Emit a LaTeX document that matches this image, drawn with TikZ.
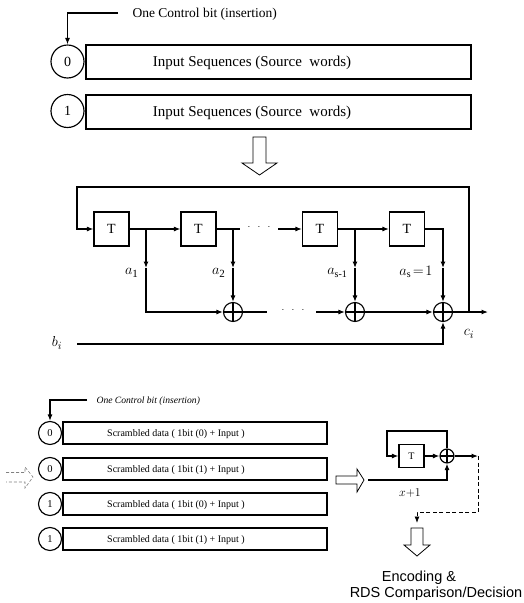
\documentclass[tikz,border=0pt]{standalone}
\usepackage{fontspec}
\setmainfont{Liberation Serif}
\newfontfamily\labelfont{Liberation Sans}
\usepackage{tikz}
\usetikzlibrary{arrows.meta}
\tikzset{arr/.style={-{Latex[length=6.5pt,width=5pt]}}}
\tikzset{every edge/.style={draw, arr}}
\tikzset{
  bitc/.style={draw, circle, minimum size=33pt, inner sep=0pt, font=\fontsize{14}{16}\selectfont},
  seqbox/.style={draw, minimum width=385pt, minimum height=34pt, inner sep=0pt},
  seqtext/.style={inner sep=0pt, font=\fontsize{15}{17}\selectfont},
  tbox/.style={draw, minimum width=35pt, minimum height=34pt, inner sep=0pt, font=\fontsize{14}{16}\selectfont},
  xorc/.style={draw, circle, minimum size=#1, inner sep=0pt,
    path picture={\draw (path picture bounding box.north) -- (path picture bounding box.south)
      (path picture bounding box.west) -- (path picture bounding box.east);}},
  xorc/.default=19pt,
  tap/.style={inner sep=0pt, anchor=east, font=\fontsize{15}{17}\selectfont},
  smallbit/.style={draw, circle, minimum size=23pt, inner sep=0pt, font=\fontsize{10.5}{12}\selectfont},
  scrbox/.style={draw, minimum width=264pt, minimum height=22pt, inner sep=0pt},
  scrtext/.style={inner sep=0pt, font=\fontsize{10}{12}\selectfont},
}

\begin{document}
\begin{tikzpicture}[x=1pt, y=-1pt, line width=1.15pt]
  \useasboundingbox (0,0) rectangle (523,603);

  % input sequences with the control bit
  \node[bitc]   at (67.5, 61.5)  (bit0) {0};
  \node[bitc]   at (67.5, 111)   (bit1) {1};
  \node[seqbox] at (278.5, 62)  (seq0) {};
  \node[seqbox] at (278.5, 112) (seq1) {};
  \node[seqtext] at (252, 63)  (seq0t) {Input Sequences (Source\ \ words)};
  \node[seqtext] at (252, 113) (seq1t) {Input Sequences (Source\ \ words)};
  \node[inner sep=0pt, anchor=west, font=\fontsize{13.5}{15}\selectfont] at (132, 14) (ctl) {One Control bit (insertion)};
  \coordinate (ctlend) at (118, 13);
  \draw[arr] (ctlend) -| (bit0.north);

  \draw[line width=0.8pt] (253,137) -- (266,137) -- (266,163) -- (277,163) -- (259.5,175)
    -- (242,163) -- (253,163) -- cycle;

  % scrambler
  \node[tbox] at (111.5, 229) (T1) {T};
  \node[tbox] at (198.5, 229) (T2) {T};
  \node[tbox] at (320, 229)   (T3) {T};
  \node[tbox] at (407, 229)   (T4) {T};

  \node[xorc] at (233, 312) (X1) {};
  \node[xorc] at (355, 312) (X2) {};
  \node[xorc] at (443, 312) (X3) {};

  \coordinate (tap1) at (146, 229);
  \coordinate (tap2) at (233, 229);
  \coordinate (tap3) at (355, 229);
  \coordinate (tap4) at (443, 229);
  \coordinate (m1) at (146, 268);
  \coordinate (m2) at (233, 268);
  \coordinate (m3) at (355, 268);
  \coordinate (m4) at (443, 268);

  \draw (T1) edge (T2);
  \draw (T2.east) -- (240, 229) coordinate (d1);
  \node[inner sep=0pt] at (259, 227) (dotsT) {$\cdot\ \ \cdot\ \ \cdot$};
  \draw (278, 229) coordinate (d2) edge (T3.west);
  \draw (T3) edge (T4);

  \draw (tap1) edge (m1);
  \draw[arr] (m1) |- (X1.west);
  \draw (tap2) edge (m2);
  \draw (m2) edge (X1.north);
  \draw (tap3) edge (m3);
  \draw (m3) edge (X2.north);
  \draw[arr] (T4.east) -| (m4);
  \draw (m4) edge (X3.north);

  \node[tap] at (139, 273) (a1) {$a_{\mbox{\fontsize{11}{12}\selectfont 1}}$};
  \node[tap] at (226, 273) (a2) {$a_{\mbox{\fontsize{11}{12}\selectfont 2}}$};
  \node[tap] at (348, 273) (as1) {$a_{\mbox{\fontsize{10}{12}\selectfont s-1}}$};
  \node[tap] at (433, 272) (as) {$a_{\mbox{\fontsize{10}{12}\selectfont s}}\!=\!1$};

  \draw (X1.east) -- (267, 312) coordinate (d3);
  \node[inner sep=0pt] at (293, 310) (dotsX) {$\cdot\ \ \cdot\ \ \cdot$};
  \draw (316, 312) coordinate (d4) edge (X2.west);
  \draw (X2) edge (X3);
  \coordinate (out) at (488, 312);
  \draw (X3.east) edge (out);

  \coordinate (fb) at (469, 312);
  \draw[arr] (fb) |- (77, 187) |- (T1.west);

  \node[inner sep=0pt, font=\fontsize{15}{17}\selectfont] at (57, 343) (bi) {$b_{i}$};
  \coordinate (bstart) at (77, 344);
  \draw[arr] (bstart) -| (X3.south);
  \node[inner sep=0pt, font=\fontsize{15}{17}\selectfont] at (469, 334) (ci) {$c_{i}$};

  % scrambled data
  \node[smallbit] at (50, 433) (cb0) {0};
  \node[smallbit] at (50, 469) (cb1) {0};
  \node[smallbit] at (50, 504) (cb2) {1};
  \node[smallbit] at (50, 539) (cb3) {1};
  \node[scrbox] at (195, 433) (sb0) {};
  \node[scrbox] at (195, 469) (sb1) {};
  \node[scrbox] at (195, 504) (sb2) {};
  \node[scrbox] at (195, 539) (sb3) {};
  \node[scrtext] at (176, 434) (st0) {Scrambled data ( 1bit (0) + Input )};
  \node[scrtext] at (176, 470) (st1) {Scrambled data ( 1bit (1) + Input )};
  \node[scrtext] at (176, 505) (st2) {Scrambled data ( 1bit (0) + Input )};
  \node[scrtext] at (176, 540) (st3) {Scrambled data ( 1bit (1) + Input )};

  \node[inner sep=0pt, anchor=west, font=\fontsize{9.6}{11}\itshape] at (96, 401) (ctl2) {One Control bit (insertion)};
  \coordinate (ctl2end) at (87, 400);
  \draw[arr] (ctl2end) -| (cb0.north);

  \draw[gray, line width=0.6pt, densely dashed] (6,472.5) -- (25,472.5) -- (25,467) -- (33,477)
    -- (25,488) -- (25,482) -- (6,482);
  \draw[line width=0.8pt] (336,476) -- (357,476) -- (357,469) -- (364,480) -- (357,492)
    -- (357,484) -- (336,484) -- cycle;

  % x+1 circuit
  \node[tbox, minimum width=25pt, minimum height=23pt, font=\fontsize{10}{12}\selectfont] at (411.5, 456) (Ts) {T};
  \node[xorc=14pt] at (447, 456) (Xs) {};
  \draw (Ts) edge (Xs);
  \draw[arr] (Xs.north) |- (387, 431) |- (Ts.west);
  \coordinate (xin) at (368, 480);
  \draw[arr] (xin) -| (Xs.south);
  \coordinate (xout) at (478, 456);
  \draw (Xs.east) edge (xout);
  \coordinate (dec) at (417, 523);
  \draw[arr, line width=0.8pt, dash pattern=on 4pt off 2.5pt] (xout) |- (417, 512) -- (dec);
  \node[inner sep=0pt, font=\fontsize{13}{15}\selectfont] at (410, 493) (xp1) {$x{+}1$};

  \draw[line width=0.8pt] (411,528) -- (423,528) -- (423,545) -- (430,545) -- (417,556)
    -- (404,545) -- (411,545) -- cycle;
  \node[inner sep=0pt, font=\labelfont\fontsize{14.5}{16}\selectfont] at (419, 578) (enc) {Encoding \&};
  \node[inner sep=0pt, font=\labelfont\fontsize{14.5}{16}\selectfont] at (436, 594) (rds) {RDS Comparison/Decision};
\end{tikzpicture}
\end{document}
